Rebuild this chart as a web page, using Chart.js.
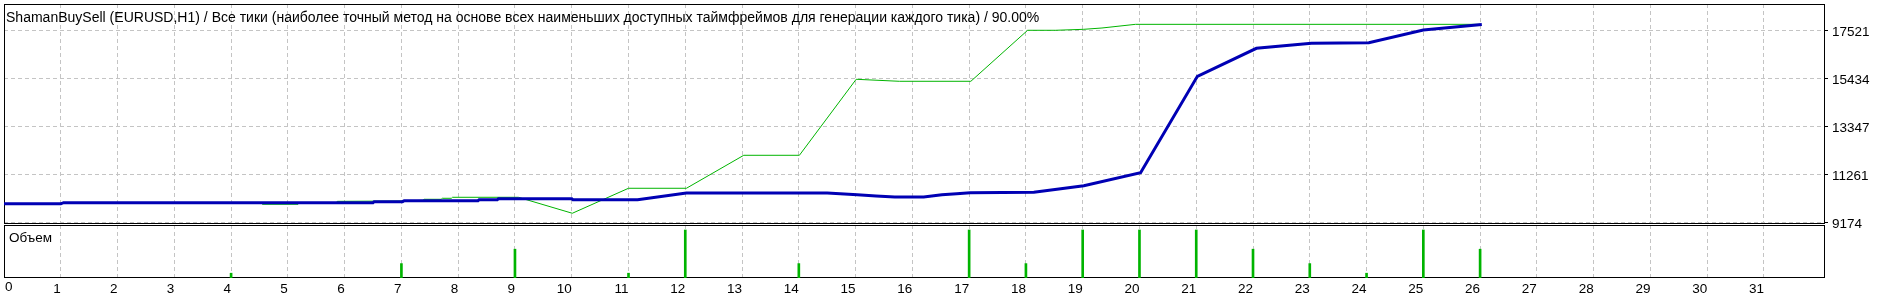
<!DOCTYPE html>
<html><head><meta charset="utf-8">
<script src="https://cdn.jsdelivr.net/npm/chart.js@4.4.1/dist/chart.umd.min.js"></script>
<style>
html,body{margin:0;padding:0;background:#fff;width:1889px;height:300px;overflow:hidden;}
#wrap{position:relative;width:1889px;height:300px;}
canvas{position:absolute;left:0;top:0;}
.lbl{position:absolute;font-family:"Liberation Sans",Arial,sans-serif;color:#000;white-space:nowrap;line-height:1;}
</style></head><body>
<div id="wrap">
<canvas id="vol" width="1889" height="300"></canvas>
<canvas id="main" width="1889" height="300"></canvas>
<div id="title" class="lbl"></div>
<div id="volTitle" class="lbl"></div>
</div>
<script>
// ---- texts ----
const chartTitle = "ShamanBuySell (EURUSD,H1) / Все тики (наиболее точный метод на основе всех наименьших доступных таймфреймов для генерации каждого тика) / 90.00%";
const volumeTitle = "Объем";

// ---- tick labels ----
const xTicks = [0,1,2,3,4,5,6,7,8,9,10,11,12,13,14,15,16,17,18,19,20,21,22,23,24,25,26,27,28,29,30,31];
const yTicks = [9174, 11261, 13347, 15434, 17521];

// ---- balance (blue) ----
const balanceX = [0, 1.0, 1.05, 6.5, 6.52, 7.02, 7.05, 8.35, 8.37, 8.69, 8.71, 10.0, 10.02, 11.16, 12.02, 14.5, 15.03, 15.36, 15.69, 16.2, 16.52, 16.78, 17.02, 18.14, 19.02, 20.02, 21.02, 22.06, 23.03, 24.04, 25.0, 26.03];
const balanceY = [9975, 9975, 10028, 10028, 10071, 10071, 10114, 10114, 10158, 10158, 10201, 10201, 10158, 10158, 10447, 10447, 10374, 10318, 10274, 10274, 10374, 10418, 10461, 10478, 10766, 11331, 15521, 16739, 16956, 16982, 17534, 17775];

// ---- equity (green) ----
const equityX = [0, 1.0, 1.05, 4.53, 4.55, 5.18, 5.2, 5.85, 5.87, 7.0, 7.38, 7.4, 7.7, 7.72, 7.88, 7.9, 9.06, 10.01, 11.0, 12.02, 13.03, 14.01, 15.01, 15.77, 17.03, 18.03, 18.52, 19.02, 19.34, 19.93, 26.0];
const equityY = [9975, 9975, 10028, 10028, 9957, 9957, 10028, 10028, 10085, 10100, 10130, 10174, 10174, 10218, 10218, 10261, 10261, 9566, 10653, 10653, 12087, 12087, 15391, 15304, 15304, 17521, 17521, 17564, 17621, 17780, 17780];

// ---- volume ----
const volumeX = [4, 7, 9, 11, 12, 14, 17, 18, 19, 20, 21, 22, 23, 24, 25, 26];
const volumeY = [0.01, 0.03, 0.06, 0.01, 0.1, 0.03, 0.1, 0.03, 0.1, 0.1, 0.1, 0.06, 0.03, 0.01, 0.1, 0.06];

const FONT = {family: '"Liberation Sans", Arial, sans-serif', size: 13.5};
const GRID = '#c4c4c4';
const DASH = [4, 3];
const X_MAX = 32.075;

const framePlugin = {
  id: 'frame',
  beforeDatasetsDraw(chart) {
    const {ctx, chartArea: a} = chart;
    ctx.save();
    ctx.strokeStyle = '#000';
    ctx.lineWidth = 1;
    ctx.setLineDash([]);
    ctx.strokeRect(a.left + 0.5, a.top + 0.5, a.right - a.left - 1, a.bottom - a.top - 1);
    ctx.restore();
  }
};

const xTickBuilder = s => { s.ticks = xTicks.map(v => ({value: v})); };

new Chart(document.getElementById('main'), {
  type: 'line',
  data: {
    datasets: [
      {label: 'Баланс', data: balanceX.map((x, i) => ({x, y: balanceY[i]})), borderColor: '#0000b4', borderWidth: 3, pointRadius: 0, tension: 0, fill: false, order: 0},
      {label: 'Эквити', data: equityX.map((x, i) => ({x, y: equityY[i]})), borderColor: '#00b400', borderWidth: 1, pointRadius: 0, tension: 0, fill: false, order: 1}
    ]
  },
  options: {
    responsive: false, animation: false, devicePixelRatio: 1, events: [],
    layout: {padding: {left: 4, right: 0, top: 4, bottom: 76}},
    plugins: {legend: {display: false}, tooltip: {enabled: false}, title: {display: false}},
    scales: {
      x: {
        type: 'linear', position: 'bottom', min: 0, max: X_MAX, bounds: 'data',
        afterBuildTicks: xTickBuilder,
        afterFit: s => { s.height = 0; s.paddingLeft = 0; s.paddingRight = 0; },
        ticks: {display: false},
        grid: {color: GRID, drawTicks: false, lineWidth: 1},
        border: {display: false, dash: DASH}
      },
      y: {
        type: 'linear', position: 'right', min: 9100, max: 18664, bounds: 'data',
        afterBuildTicks: s => { s.ticks = yTicks.map(v => ({value: v})); },
        afterFit: s => { s.width = 64; s.paddingTop = 0; s.paddingBottom = 0; },
        ticks: {color: '#000', font: FONT, padding: 4, labelOffset: 2, callback: v => String(v)},
        grid: {color: GRID, tickColor: '#000', tickLength: 3, tickBorderDash: [], drawTicks: true, lineWidth: 1},
        border: {display: false, dash: DASH}
      }
    }
  },
  plugins: [framePlugin]
});

new Chart(document.getElementById('vol'), {
  type: 'bar',
  data: {
    datasets: [
      {label: volumeTitle, data: volumeX.map((x, i) => ({x, y: volumeY[i]})), backgroundColor: '#00b400', borderWidth: 0, barThickness: 2}
    ]
  },
  options: {
    responsive: false, animation: false, devicePixelRatio: 1, events: [],
    layout: {padding: {left: 4, right: 64, top: 225, bottom: 0}},
    plugins: {legend: {display: false}, tooltip: {enabled: false}},
    scales: {
      x: {
        type: 'linear', position: 'bottom', min: 0, max: X_MAX, bounds: 'data', offset: false, weight: 0,
        afterBuildTicks: xTickBuilder,
        afterFit: s => { s.height = 22; s.paddingLeft = 0; s.paddingRight = 0; },
        ticks: {align: 'end', padding: 3, color: '#000', font: FONT, autoSkip: false, maxRotation: 0, callback: v => (v === 0 ? '' : String(v))},
        grid: {color: GRID, drawTicks: false, offset: false, lineWidth: 1},
        border: {display: false, dash: DASH}
      },
      x0: {
        type: 'linear', axis: 'x', position: 'bottom', min: 0, max: X_MAX, bounds: 'data', offset: false, weight: 1,
        afterBuildTicks: s => { s.ticks = [{value: xTicks[0]}]; },
        afterFit: s => { s.height = 0; s.paddingLeft = 0; s.paddingRight = 0; },
        ticks: {align: 'start', mirror: true, padding: 4.4, color: '#000', font: FONT, autoSkip: false, maxRotation: 0, labelOffset: 1, callback: v => String(v)},
        grid: {display: false, drawTicks: false},
        border: {display: false}
      },
      y: {
        display: false, min: 0, max: 0.1104, bounds: 'data',
        afterFit: s => { s.width = 0; s.paddingTop = 0; s.paddingBottom = 0; }
      }
    }
  },
  plugins: [framePlugin]
});

// ---- text labels ----
const t = document.getElementById('title');
t.textContent = chartTitle;
t.style.fontSize = '13px';
const w = t.getBoundingClientRect().width;
const fs = 13 * 1034 / w;
t.style.fontSize = fs + 'px';
t.style.left = '6px';
t.style.top = (21.5 - 0.8465 * fs) + 'px';

const v = document.getElementById('volTitle');
v.textContent = volumeTitle;
v.style.fontSize = '13.5px';
v.style.left = '9px';
v.style.top = (242.8 - 0.8465 * 13.5) + 'px';
</script>
</body></html>
